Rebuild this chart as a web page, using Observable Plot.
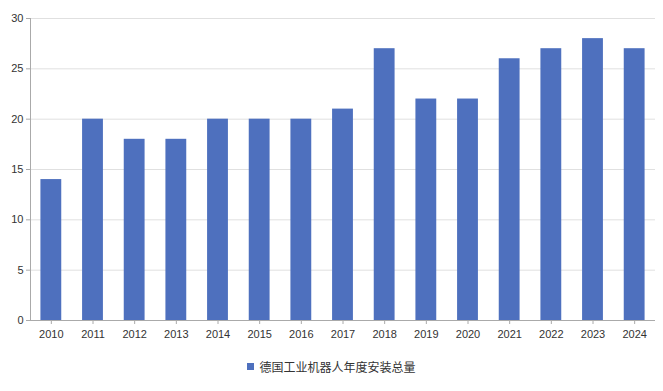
<!DOCTYPE html>
<html><head><meta charset="utf-8">
<script src="https://cdn.jsdelivr.net/npm/d3@7"></script>
<script src="https://cdn.jsdelivr.net/npm/@observablehq/plot@0.6"></script>
<style>
body{margin:0;background:#fff;font-family:"Noto Sans CJK SC","Liberation Sans",sans-serif;}
#legend{display:flex;justify-content:center;align-items:center;height:41px;font-size:12px;color:#333;margin-top:-4px}
#legend span.sw{display:inline-block;width:7px;height:7px;background:#4e70be;margin-right:5px}
</style></head>
<body><div id="chart"></div><div id="legend"><span class="sw"></span><span>德国工业机器人年度安装总量</span></div>
<script>
const years = ["2010","2011","2012","2013","2014","2015","2016","2017","2018","2019","2020","2021","2022","2023","2024"];
const values = [14,20,18,18,20,20,20,21,27,22,22,26,27,28,27];
const yTicks = [0,5,10,15,20,25,30];
const seriesName = "德国工业机器人年度安装总量";
const data = years.map((y,i)=>({year:y,value:values[i]}));
const chart = Plot.plot({
  width:663, height:350,
  marginLeft:30, marginRight:8, marginTop:18, marginBottom:30,
  style:{fontFamily:"Liberation Sans, Arial, sans-serif", fontSize:"11px", color:"#333", background:"#fff"},
  x:{domain:years, paddingInner:0.5, paddingOuter:0.25, round:false, label:null},
  y:{domain:[0,30], label:null},
  marks:[
    Plot.ruleY(yTicks.filter(d=>d>0),{stroke:"#e0e0e0"}),
    Plot.barY(data,{x:"year",y:"value",fill:"#4e70be"}),
    Plot.ruleY([0],{stroke:"#aaa"}),
    Plot.frame({anchor:"left",stroke:"#aaa"}),
    Plot.axisY({ticks:yTicks,tickSize:4,tickPadding:3,stroke:"#aaa",fill:"#333"}),
    Plot.axisX({tickSize:4,tickPadding:6,stroke:"#aaa",fill:"#333"})
  ]
});
document.getElementById("chart").appendChild(chart);
</script></body></html>
